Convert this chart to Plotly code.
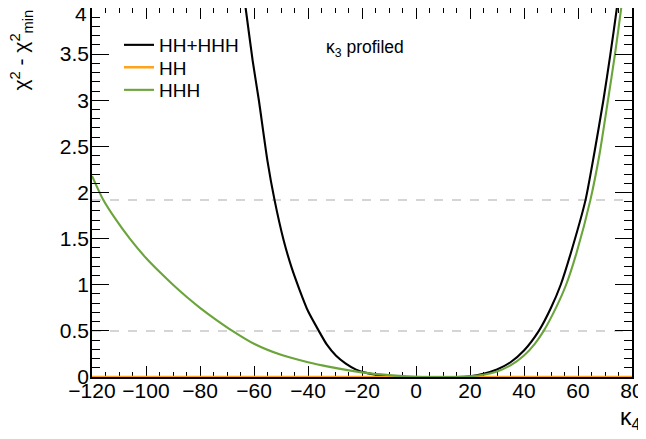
import plotly.graph_objects as go

# --- data ---
hh_hhh_k4 = [-66, -63.1, -60.5, -58.2, -55, -52.4, -49, -46, -43.1, -40, -36, -33, -29.6, -26, -22.2, -18, -15, -10, -5, 0, 5, 10, 15, 20, 25, 30, 35, 40, 45.5, 50, 53.6, 57.4, 62.8, 66, 69.4, 72, 74.4, 76.5]
hh_hhh_chi2 = [4.6, 4.0, 3.43, 3.0, 2.34, 1.92, 1.48, 1.18, 0.943, 0.715, 0.5, 0.35, 0.23, 0.145, 0.08, 0.042, 0.025, 0.008, 0.0, 0.0, 0.0, 0.0, 0.0, 0.008, 0.036, 0.082, 0.16, 0.287, 0.5, 0.75, 1.0, 1.35, 1.92, 2.42, 3.0, 3.5, 4.0, 4.5]

hh_k4 = [-120, 80]
hh_chi2 = [0.0, 0.0]

hhh_k4 = [-120, -116, -111, -106, -100, -95, -90, -85, -80, -74, -68, -60, -50, -40, -32, -20, -10, 0, 10, 15, 20, 25, 30, 35, 40, 44, 47.3, 52, 55.6, 59.5, 64.6, 68, 71.1, 73.7, 76, 78]
hhh_chi2 = [2.18, 1.93, 1.7, 1.5, 1.29, 1.14, 1.0, 0.87, 0.75, 0.62, 0.5, 0.36, 0.24, 0.16, 0.11, 0.05, 0.02, 0.003, 0.0, 0.0, 0.008, 0.024, 0.06, 0.126, 0.233, 0.36, 0.5, 0.76, 1.0, 1.35, 1.92, 2.42, 3.0, 3.5, 4.0, 4.5]

ref_levels = [0.5, 1.92]
x_range = [-120, 80]
y_range = [0, 4]
y_tick_vals = [0, 0.5, 1, 1.5, 2, 2.5, 3, 3.5, 4]
y_tick_text = ["0", "0.5", "1", "1.5", "2", "2.5", "3", "3.5", "4"]

FONT = "Liberation Sans, Arial, sans-serif"
BLACK = "#000000"
ORANGE = "#ffa31a"
GREEN = "#6aa43a"

# the page body adds an 8 px offset; figure sized to fit the window
OFF = 8
W, H = 646 - OFF, 439 - OFF
L, R, T, B = 84, 14, 0, 62
PW, PH = W - L - R, H - T - B


def px(xw):
    """window x pixel -> paper coordinate"""
    return (xw - OFF - L) / PW


def py(yw):
    """window y pixel -> paper coordinate"""
    return (H - B - (yw - OFF)) / PH


fig = go.Figure()
fig.add_trace(go.Scatter(x=hh_hhh_k4, y=hh_hhh_chi2, mode="lines", name="HH+HHH", legend="legend",
                         line=dict(color=BLACK, width=2.1, shape="spline", smoothing=0.6)))
fig.add_trace(go.Scatter(x=hh_k4, y=hh_chi2, mode="lines", name="HH", legend="legend2",
                         line=dict(color=ORANGE, width=2.5)))
fig.add_trace(go.Scatter(x=hhh_k4, y=hhh_chi2, mode="lines", name="HHH", legend="legend3",
                         line=dict(color=GREEN, width=2.1, shape="spline", smoothing=0.6)))

for lv in ref_levels:
    fig.add_shape(type="line", xref="x", yref="y", x0=x_range[0], x1=x_range[1], y0=lv, y1=lv,
                  line=dict(color="#c8c8c8", width=1.5, dash="dash"), layer="below")

fig.add_annotation(text="χ<sup>2</sup> - χ<sup>2</sup><sub>min</sub>", textangle=-90,
                   xref="paper", yref="paper", x=px(21), y=py(8), xanchor="center", yanchor="top",
                   showarrow=False, font=dict(family=FONT, size=21, color="black"))
fig.add_annotation(text="κ<sub>4</sub>", xref="paper", yref="paper", x=px(643), y=py(435),
                   xanchor="right", yanchor="bottom", showarrow=False,
                   font=dict(family=FONT, size=23, color="black"))
fig.add_annotation(text="κ<sub>3</sub> profiled", xref="paper", yref="paper", x=px(324),
                   y=py(35), xanchor="left", yanchor="top", showarrow=False,
                   font=dict(family=FONT, size=17.5, color="black"))
# top y label sits slightly below its tick, as in the reference
fig.add_annotation(text=y_tick_text[-1], xref="paper", yref="paper", x=px(89), y=py(14),
                   xanchor="right", yanchor="middle", showarrow=False,
                   font=dict(family=FONT, size=21, color="black"))

axis_common = dict(showgrid=False, zeroline=False, showline=True, linecolor="black", linewidth=1.5,
                   mirror="ticks", ticks="inside", tickcolor="black", tickwidth=1.2,
                   automargin=False, ticklabeloverflow="allow",
                   tickfont=dict(family=FONT, size=21, color="black"))

fig.update_xaxes(range=x_range, tick0=-120, dtick=20, ticklen=11, layer="below traces",
                 ticklabelstandoff=-6,
                 minor=dict(dtick=5, ticklen=5.5, ticks="inside", tickcolor="black", tickwidth=1.2),
                 **axis_common)
fig.update_yaxes(range=y_range, tickvals=y_tick_vals, ticktext=y_tick_text[:-1] + [""],
                 ticklen=17, ticklabelstandoff=-3,
                 minor=dict(dtick=0.1, ticklen=8, ticks="inside", tickcolor="black", tickwidth=1.2),
                 **axis_common)

leg_common = dict(xanchor="left", yanchor="middle", bgcolor="rgba(0,0,0,0)",
                  font=dict(family=FONT, size=19, color="black"), borderwidth=0)
fig.update_layout(
    width=W, height=H,
    margin=dict(l=L, r=R, t=T, b=B),
    paper_bgcolor="white", plot_bgcolor="white",
    font=dict(family=FONT, size=19, color="black"),
    showlegend=True,
    legend=dict(x=px(119), y=py(45), **leg_common),
    legend2=dict(x=px(119), y=py(67.5), **leg_common),
    legend3=dict(x=px(119), y=py(90), **leg_common),
)

fig.write_html("out.html")
